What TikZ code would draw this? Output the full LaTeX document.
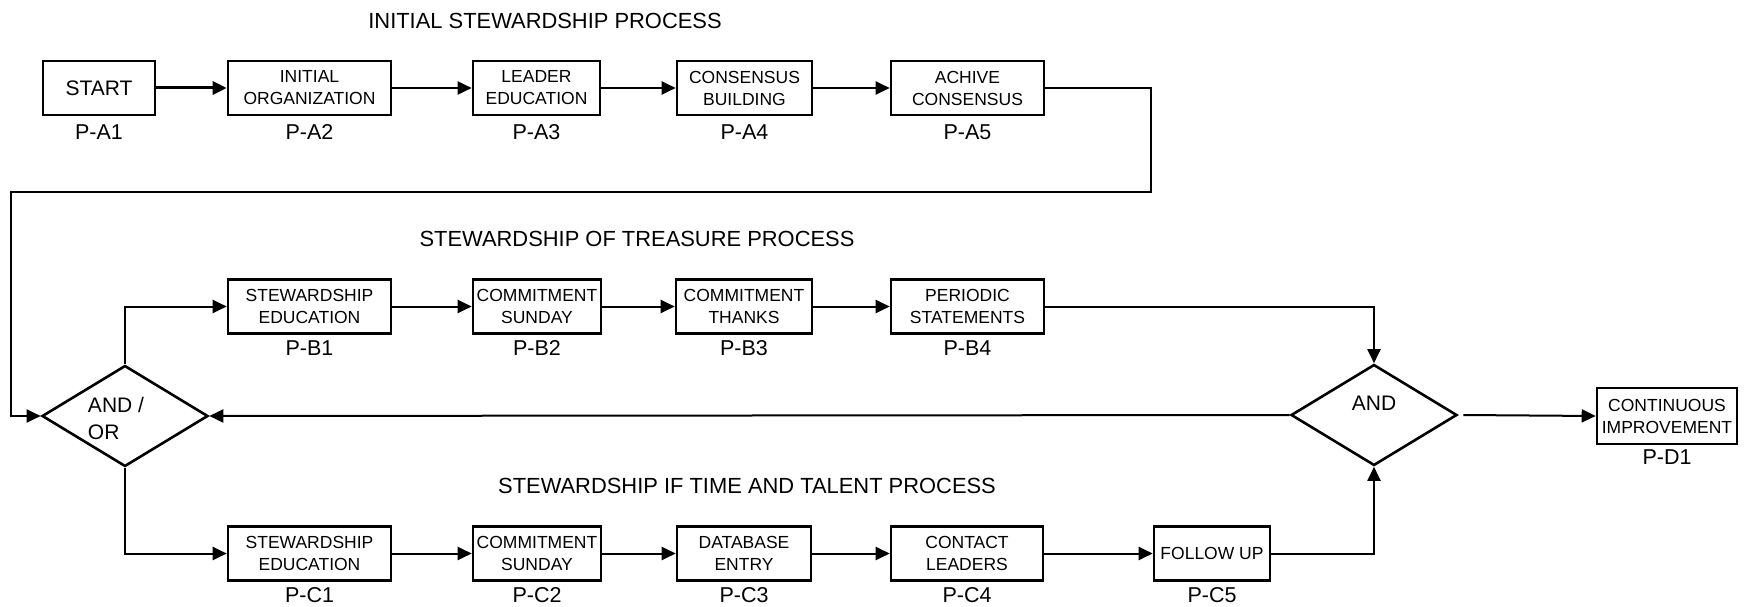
\documentclass[tikz,border=0pt]{standalone}
\usepackage{fontspec}
\setmainfont{Liberation Sans}
\usetikzlibrary{arrows.meta,shapes.geometric}
\begin{document}
\begin{tikzpicture}[x=1pt,y=-1pt,
  box/.style={draw, line width=2.6pt, minimum height=54pt, inner sep=0pt, align=center, font=\fontsize{17.5}{22}\selectfont},
  lab/.style={font=\fontsize{21.5}{24}\selectfont, inner sep=0pt},
  ttl/.style={font=\fontsize{21.9}{24}\selectfont, inner sep=0pt},
  dtxt/.style={font=\fontsize{21}{27}\selectfont, inner sep=0pt},
  dia/.style={draw, diamond, line width=2.6pt, minimum width=166pt, minimum height=101pt, inner sep=0pt},
  arr/.style={line width=2pt, -{Triangle[length=14pt,width=13pt]}},
]
\useasboundingbox[fill=white] (0,0) rectangle (1749,607);

% titles
\node[ttl] (t1) at (545,21) {INITIAL STEWARDSHIP PROCESS};
\node[ttl] (t2) at (637,239) {STEWARDSHIP OF TREASURE PROCESS};
\node[ttl] (t3) at (747,486) {STEWARDSHIP IF TIME AND TALENT PROCESS};

% row A
\node[box, minimum width=112pt, font=\fontsize{21}{24}\selectfont] (a1) at (99,88) {START};
\node[box, minimum width=163pt] (a2) at (309.5,88) {INITIAL\\ORGANIZATION};
\node[box, minimum width=127pt] (a3) at (536.5,88) {LEADER\\EDUCATION};
\node[box, minimum width=135pt] (a4) at (744.5,88) {CONSENSUS\\BUILDING};
\node[box, minimum width=153pt] (a5) at (967.5,88) {ACHIVE\\CONSENSUS};
\node[lab] (a1l) at (99,132) {P-A1};
\node[lab] (a2l) at (309.5,132) {P-A2};
\node[lab] (a3l) at (536.5,132) {P-A3};
\node[lab] (a4l) at (744.5,132) {P-A4};
\node[lab] (a5l) at (967.5,132) {P-A5};

% row B
\node[box, minimum width=163pt] (b1) at (309.5,306.5) {STEWARDSHIP\\EDUCATION};
\node[box, minimum width=128pt] (b2) at (537,306.5) {COMMITMENT\\SUNDAY};
\node[box, minimum width=136pt] (b3) at (744,306.5) {COMMITMENT\\THANKS};
\node[box, minimum width=153pt] (b4) at (967.5,306.5) {PERIODIC\\STATEMENTS};
\node[lab] (b1l) at (309.5,348) {P-B1};
\node[lab] (b2l) at (537,348) {P-B2};
\node[lab] (b3l) at (744,348) {P-B3};
\node[lab] (b4l) at (967.5,348) {P-B4};

% row C
\node[box, minimum width=163pt] (c1) at (309.5,553.5) {STEWARDSHIP\\EDUCATION};
\node[box, minimum width=128pt] (c2) at (537,553.5) {COMMITMENT\\SUNDAY};
\node[box, minimum width=134pt] (c3) at (744,553.5) {DATABASE\\ENTRY};
\node[box, minimum width=152pt] (c4) at (967,553.5) {CONTACT\\LEADERS};
\node[box, minimum width=116pt] (c5) at (1212,553.5) {FOLLOW UP};
\node[lab] (c1l) at (309.5,595) {P-C1};
\node[lab] (c2l) at (537,595) {P-C2};
\node[lab] (c3l) at (744,595) {P-C3};
\node[lab] (c4l) at (967,595) {P-C4};
\node[lab] (c5l) at (1212,595) {P-C5};

% diamonds
\node[dia] (or) at (125,416) {};
\node[dtxt, align=left] (ortxt) at (116,418) {AND /\\OR};
\node[dia] (and) at (1374,415) {};
\node[dtxt] (andtxt) at (1374,403) {AND};

% final box
\node[box, minimum width=140pt, minimum height=56pt] (d1) at (1667,416) {CONTINUOUS\\IMPROVEMENT};
\node[lab] (d1l) at (1667,457) {P-D1};

% corner coordinates
\coordinate (k1) at (1151,88);
\coordinate (k2) at (1151,192);
\coordinate (k3) at (11,192);

% connectors row A
\draw[arr, line width=3pt] (a1) -- (a2);
\draw[arr] (a2) -- (a3);
\draw[arr] (a3) -- (a4);
\draw[arr] (a4) -- (a5);
\draw[arr] (a5.east) -- (k1) -- (k2) -- (k3) |- (or.west);

% branches
\draw[arr] (or.north) |- (b1.west);
\draw[arr] (or.south) |- (c1.west);

% row B
\draw[arr] (b1) -- (b2);
\draw[arr] (b2) -- (b3);
\draw[arr] (b3) -- (b4);
\draw[arr] (b4.east) -| (and.north);

% row C
\draw[arr] (c1) -- (c2);
\draw[arr] (c2) -- (c3);
\draw[arr] (c3) -- (c4);
\draw[arr] (c4) -- (c5);
\draw[arr] (c5.east) -| (and.south);

% return and final
\draw[arr] (and.west) -- (or.east);
\draw[arr] ([xshift=5pt]and.east) -- (d1.west);
\end{tikzpicture}
\end{document}
